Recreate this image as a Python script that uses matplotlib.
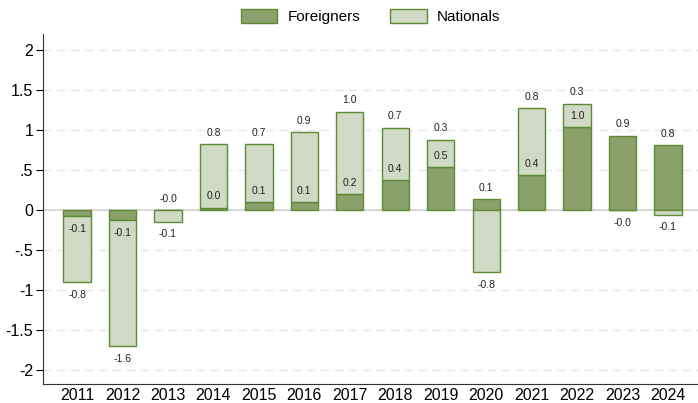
import numpy as np
import matplotlib
matplotlib.use('Agg')
import matplotlib.pyplot as plt

years = ['2011', '2012', '2013', '2014', '2015', '2016', '2017',
         '2018', '2019', '2020', '2021', '2022', '2023', '2024']
foreigners = np.array([-0.08, -0.13, -0.004, 0.03, 0.10, 0.10, 0.20,
                       0.37, 0.54, 0.14, 0.44, 1.04, 0.93, 0.81])
nationals = np.array([-0.82, -1.57, -0.14, 0.79, 0.72, 0.87, 1.03,
                      0.66, 0.34, -0.78, 0.83, 0.29, -0.004, -0.06])

y_ticks = [2, 1.5, 1, 0.5, 0, -0.5, -1, -1.5, -2]
y_ticklabels = ['2', '1.5', '1', '.5', '0', '-.5', '-1', '-1.5', '-2']

dark_fill = '#8aa16b'
light_fill = '#cfd9c3'
edge = '#5f8a35'
text_col = '#222222'

plt.rcParams['font.family'] = ['Liberation Sans', 'DejaVu Sans']

fig = plt.figure(figsize=(6.98, 4.03), dpi=100)
ax = fig.add_axes([43 / 698, 1 - 384 / 403, 655 / 698, 350 / 403])

x = np.arange(len(years))
width = 0.6

# stack positives upwards and negatives downwards from zero
f_base = np.zeros(len(years))
n_base = np.where(np.sign(nationals) == np.sign(foreigners), foreigners, 0.0)

ax.bar(x, foreigners, width, bottom=f_base, color=dark_fill,
       edgecolor=edge, linewidth=1.0, label='Foreigners', zorder=3)
ax.bar(x, nationals, width, bottom=n_base, color=light_fill,
       edgecolor=edge, linewidth=1.0, label='Nationals', zorder=3)

# value labels at the end of each segment
for i in range(len(years)):
    f_end = foreigners[i]
    up = np.round(f_end, 1) >= 0
    ax.annotate(f'{f_end:.1f}', (x[i], f_end), xytext=(0, 8 if up else -9),
                textcoords='offset points', ha='center', va='center',
                fontsize=7.5, color=text_col, zorder=4)
    n_end = n_base[i] + nationals[i]
    up = nationals[i] >= 0
    ax.annotate(f'{nationals[i]:.1f}', (x[i], n_end), xytext=(0, 8 if up else -9),
                textcoords='offset points', ha='center', va='center',
                fontsize=7.5, color=text_col, zorder=4)

ax.set_xlim(-0.75, 13.66)
ax.set_ylim(-2.175, 2.2)
ax.set_xticks(x)
ax.set_xticklabels(years, fontsize=11.5)
ax.set_yticks(y_ticks)
ax.set_yticklabels(y_ticklabels, fontsize=11.5)
ax.tick_params(axis='x', length=0, pad=3)
ax.tick_params(axis='y', length=5, width=0.8, pad=2)

for t in y_ticks:
    if t == 0:
        ax.axhline(0, color='#d0d0d0', linewidth=1.2, zorder=1)
    else:
        ax.axhline(t, color='#e8e8e8', linewidth=1.0, linestyle=(0, (6, 4)), zorder=1)

for side in ['top', 'right']:
    ax.spines[side].set_visible(False)
ax.spines['left'].set_color('#333333')
ax.spines['bottom'].set_color('#333333')

fig.legend(loc='upper center', bbox_to_anchor=(0.531, 1.012), ncol=2, frameon=False,
           fontsize=11, handlelength=2.4, handleheight=1.05, columnspacing=1.9,
           handletextpad=0.7)

fig.savefig('out.png', dpi=100)
